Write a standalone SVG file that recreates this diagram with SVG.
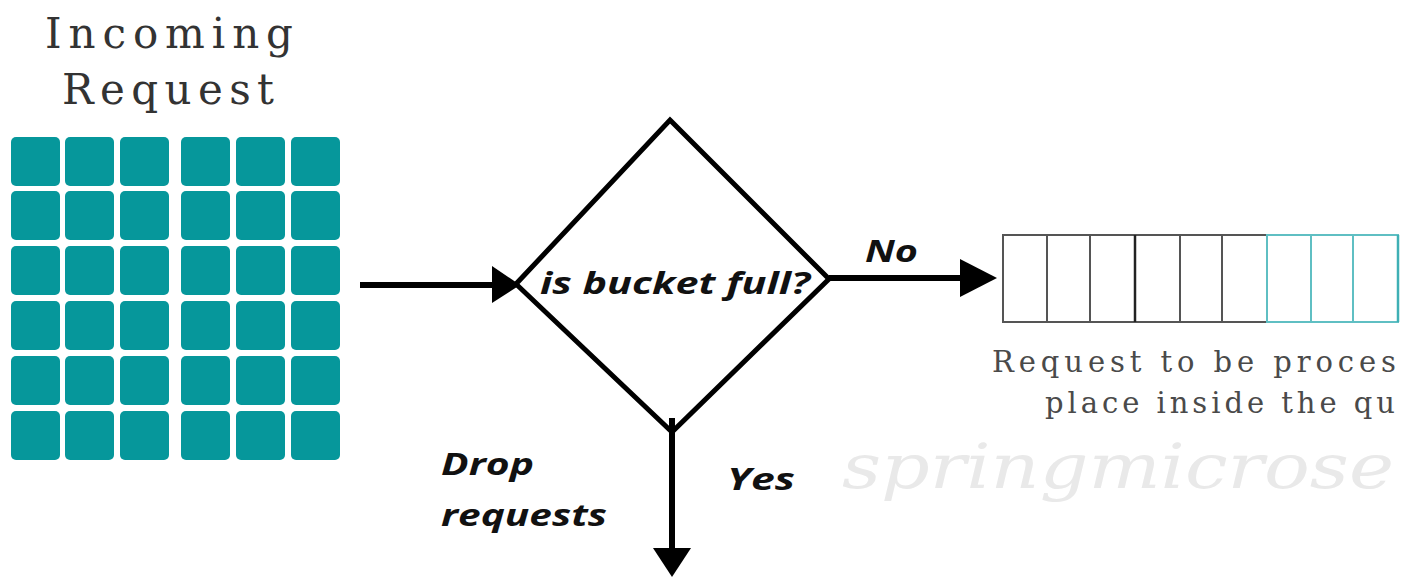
<svg xmlns="http://www.w3.org/2000/svg" width="1401" height="577" viewBox="0 0 1401 577">
<defs>
<style>
.sq{fill:#06979b;}
.title{font-family:"DejaVu Serif","Liberation Serif",serif;font-size:42px;fill:#333;}
.cap{font-family:"DejaVu Serif","Liberation Serif",serif;font-size:29px;fill:#4a4a4a;}
.lbl{font-family:"Open Sans","Liberation Sans",sans-serif;font-weight:700;font-style:italic;font-size:30px;fill:#111;}
.line{stroke:#000;stroke-width:6;fill:none;}
.head{fill:#000;}
.cellg{fill:none;stroke:#555;stroke-width:2;}
.cellt{fill:none;stroke:#5fbfc3;stroke-width:2;}
</style>
<g id="sqdef"><rect class="sq" width="49" height="49" rx="5"/></g>
</defs>
<rect width="1401" height="577" fill="#fff"/>
<text x="842" y="488" font-family="'DejaVu Serif',serif" font-style="italic" font-size="62" fill="#e9e9e9" textLength="552" lengthAdjust="spacingAndGlyphs">springmicrose</text>
<g id="incoming">
<text class="title" x="45" y="48" textLength="248" lengthAdjust="spacing">Incoming</text>
<text class="title" x="62" y="104" textLength="212" lengthAdjust="spacing">Request</text>
<g id="grid">
<use href="#sqdef" x="11" y="137"/><use href="#sqdef" x="65" y="137"/><use href="#sqdef" x="120" y="137"/><use href="#sqdef" x="181" y="137"/><use href="#sqdef" x="236" y="137"/><use href="#sqdef" x="291" y="137"/>
<use href="#sqdef" x="11" y="191"/><use href="#sqdef" x="65" y="191"/><use href="#sqdef" x="120" y="191"/><use href="#sqdef" x="181" y="191"/><use href="#sqdef" x="236" y="191"/><use href="#sqdef" x="291" y="191"/>
<use href="#sqdef" x="11" y="246"/><use href="#sqdef" x="65" y="246"/><use href="#sqdef" x="120" y="246"/><use href="#sqdef" x="181" y="246"/><use href="#sqdef" x="236" y="246"/><use href="#sqdef" x="291" y="246"/>
<use href="#sqdef" x="11" y="301"/><use href="#sqdef" x="65" y="301"/><use href="#sqdef" x="120" y="301"/><use href="#sqdef" x="181" y="301"/><use href="#sqdef" x="236" y="301"/><use href="#sqdef" x="291" y="301"/>
<use href="#sqdef" x="11" y="356"/><use href="#sqdef" x="65" y="356"/><use href="#sqdef" x="120" y="356"/><use href="#sqdef" x="181" y="356"/><use href="#sqdef" x="236" y="356"/><use href="#sqdef" x="291" y="356"/>
<use href="#sqdef" x="11" y="411"/><use href="#sqdef" x="65" y="411"/><use href="#sqdef" x="120" y="411"/><use href="#sqdef" x="181" y="411"/><use href="#sqdef" x="236" y="411"/><use href="#sqdef" x="291" y="411"/>
</g>
</g>
<g id="decision">
<polygon points="670,120 829,279 672,432 516,284" fill="#fff" stroke="#000" stroke-width="5" stroke-linejoin="miter"/>
<text class="lbl" x="540" y="294" textLength="270" lengthAdjust="spacingAndGlyphs">is bucket full?</text>
</g>
<g id="queue">
<rect class="cellg" x="1003" y="235" width="44" height="87" stroke="#444"/>
<rect class="cellg" x="1047" y="235" width="43" height="87" stroke="#333"/>
<rect class="cellg" x="1090" y="235" width="45" height="87" stroke="#444"/>
<rect class="cellg" x="1135" y="235" width="45" height="87" stroke="#555"/>
<rect class="cellg" x="1180" y="235" width="42" height="87" stroke="#333"/>
<rect class="cellg" x="1222" y="235" width="45" height="87" stroke="#555"/>
<line x1="1135" y1="235" x2="1135" y2="322" stroke="#222" stroke-width="2.5"/>
<rect class="cellt" x="1267" y="235" width="44" height="87"/>
<rect class="cellt" x="1311" y="235" width="42" height="87" stroke="#3fb0b5"/>
<rect class="cellt" x="1353" y="235" width="45" height="87" stroke="#8fd3d6"/>
<line x1="1398" y1="235" x2="1398" y2="322" stroke="#3fb0b5" stroke-width="2.5"/>
<text class="cap" x="992" y="372" textLength="404" lengthAdjust="spacing">Request to be proces</text>
<text class="cap" x="1045" y="413" textLength="350" lengthAdjust="spacing">place inside the qu</text>
</g>
<g id="connectors">
<line class="line" x1="360" y1="285" x2="496" y2="285"/>
<polygon class="head" points="492,266 520,285 492,303"/>
<line class="line" x1="829" y1="278" x2="964" y2="278"/>
<polygon class="head" points="960,259 997,278 960,297"/>
<line class="line" x1="672" y1="418" x2="672" y2="552"/>
<polygon class="head" points="653,548 691,548 672,577"/>
<text class="lbl" x="865" y="262" textLength="53" lengthAdjust="spacingAndGlyphs">No</text>
<text class="lbl" x="727" y="490" textLength="68" lengthAdjust="spacingAndGlyphs">Yes</text>
<text class="lbl" x="441" y="475" textLength="93" lengthAdjust="spacingAndGlyphs">Drop</text>
<text class="lbl" x="441" y="526" textLength="166" lengthAdjust="spacingAndGlyphs">requests</text>
</g>
</svg>
